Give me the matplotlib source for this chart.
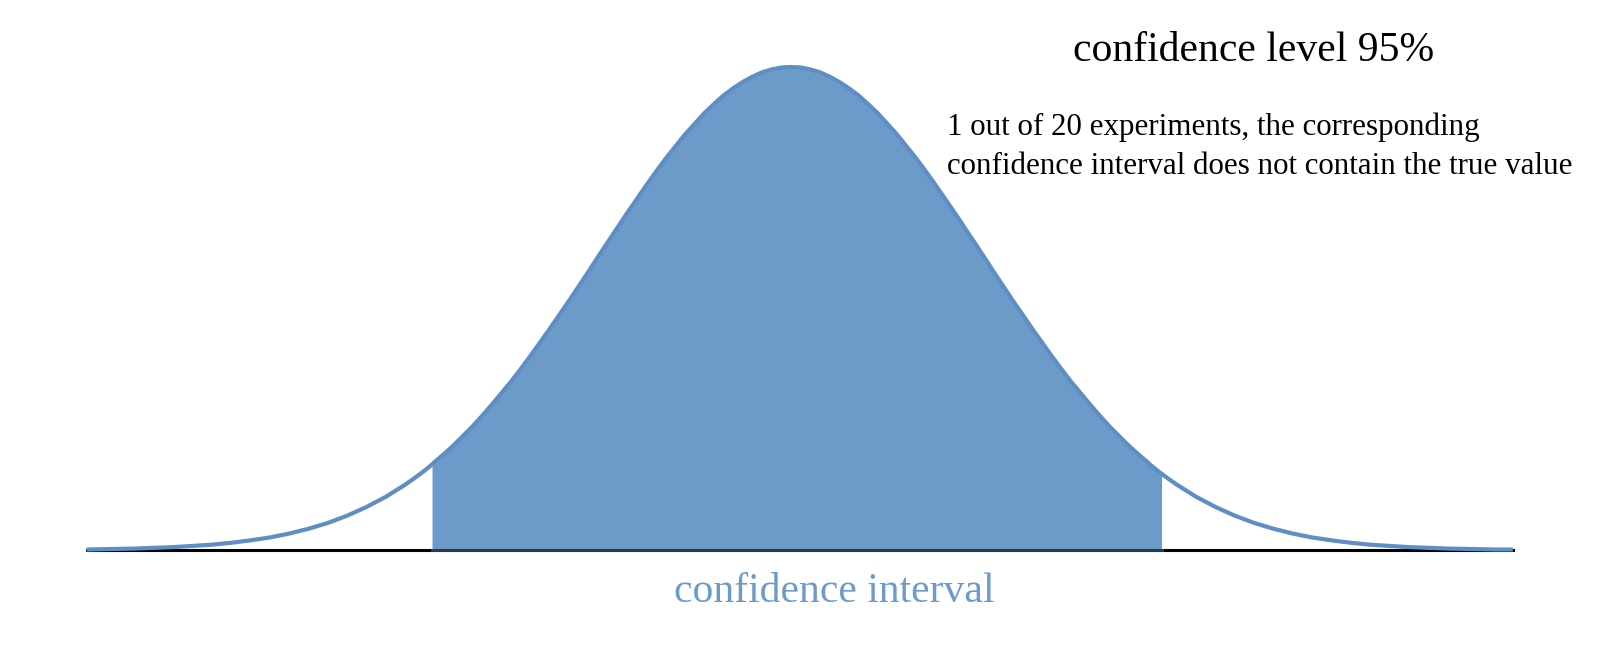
import numpy as np
import matplotlib
matplotlib.use("Agg")
import matplotlib.pyplot as plt

# half of the (symmetric) curve:
# distance from the centre in sigma units, height relative to the peak
half_z = [0.00, 0.05, 0.10, 0.15, 0.20, 0.25, 0.30, 0.35, 0.40, 0.45,
          0.50, 0.55, 0.60, 0.65, 0.70, 0.75, 0.80, 0.85, 0.90, 0.95,
          1.00, 1.05, 1.10, 1.15, 1.20, 1.25, 1.30, 1.35, 1.40, 1.45,
          1.50, 1.55, 1.60, 1.65, 1.70, 1.75, 1.80, 1.85, 1.86, 1.90,
          1.92, 1.95, 2.00, 2.10, 2.20, 2.30, 2.40, 2.50, 2.60, 2.70,
          2.80, 2.90, 3.00, 3.20, 3.40, 3.65, 3.74]
half_h = [1.000, 0.999, 0.995, 0.989, 0.980, 0.969, 0.956, 0.941, 0.923, 0.904,
          0.882, 0.860, 0.835, 0.810, 0.783, 0.755, 0.726, 0.697, 0.667, 0.637,
          0.607, 0.576, 0.546, 0.516, 0.487, 0.458, 0.430, 0.402, 0.375, 0.349,
          0.325, 0.301, 0.278, 0.256, 0.236, 0.216, 0.198, 0.181, 0.177, 0.164,
          0.158, 0.149, 0.135, 0.110, 0.089, 0.071, 0.056, 0.044, 0.034, 0.026,
          0.020, 0.015, 0.011, 0.006, 0.003, 0.001, 0.001]

# where the drawn curve starts and ends
curve_left = -3.65
curve_right = 3.74

# shaded interval
ci_lo = -1.86
ci_hi = 1.92

title_text = "confidence level 95%"
note_lines = ["1 out of 20 experiments, the corresponding",
              "confidence interval does not contain the true value"]
interval_label = "confidence interval"

fill_col = "#6c9bca"
line_col = "#5f8ec5"
serif = ["Liberation Serif", "DejaVu Serif"]

hz = np.array(half_z)
hh = np.array(half_h)
x = np.concatenate([-hz[::-1], hz[1:]])
h = np.concatenate([hh[::-1], hh[1:]])
keep = (x >= curve_left) & (x <= curve_right)
x, h = x[keep], h[keep]

W, H = 1600, 652
fig = plt.figure(figsize=(W / 100, H / 100), dpi=100)
ax = fig.add_axes([0, 0, 1, 1])
ax.axis("off")

# pixel layout: centre at 791 px, 1 sigma = 193 px, baseline at 550 px, peak 483 px tall
ax.set_xlim(-791 / 193, (W - 791) / 193)
ax.set_ylim(-(H - 550) / 483, 550 / 483)

m = (x >= ci_lo) & (x <= ci_hi)
ax.fill_between(x[m], 0, h[m], color=fill_col, lw=0, zorder=2)
ax.plot([curve_left, curve_right], [0, 0], color="black", lw=2.2, zorder=1)
ax.plot([ci_lo, ci_hi], [0, 0], color="#2b3b4e", lw=2.2, zorder=3)
ax.plot(x, h, color=line_col, lw=3, solid_joinstyle="round", solid_capstyle="butt", zorder=4)

fig.text(1254 / W, 1 - 61 / H, title_text, ha="center", va="baseline",
         fontsize=30, family=serif, color="black")
fig.text(947 / W, 1 - 135 / H, note_lines[0], ha="left", va="baseline",
         fontsize=22.3, family=serif, color="black")
fig.text(947 / W, 1 - 174 / H, note_lines[1], ha="left", va="baseline",
         fontsize=22.3, family=serif, color="black")
fig.text(834 / W, 1 - 602 / H, interval_label, ha="center", va="baseline",
         fontsize=30, family=serif, color=fill_col)

fig.savefig("out.png", dpi=100, facecolor="white")
